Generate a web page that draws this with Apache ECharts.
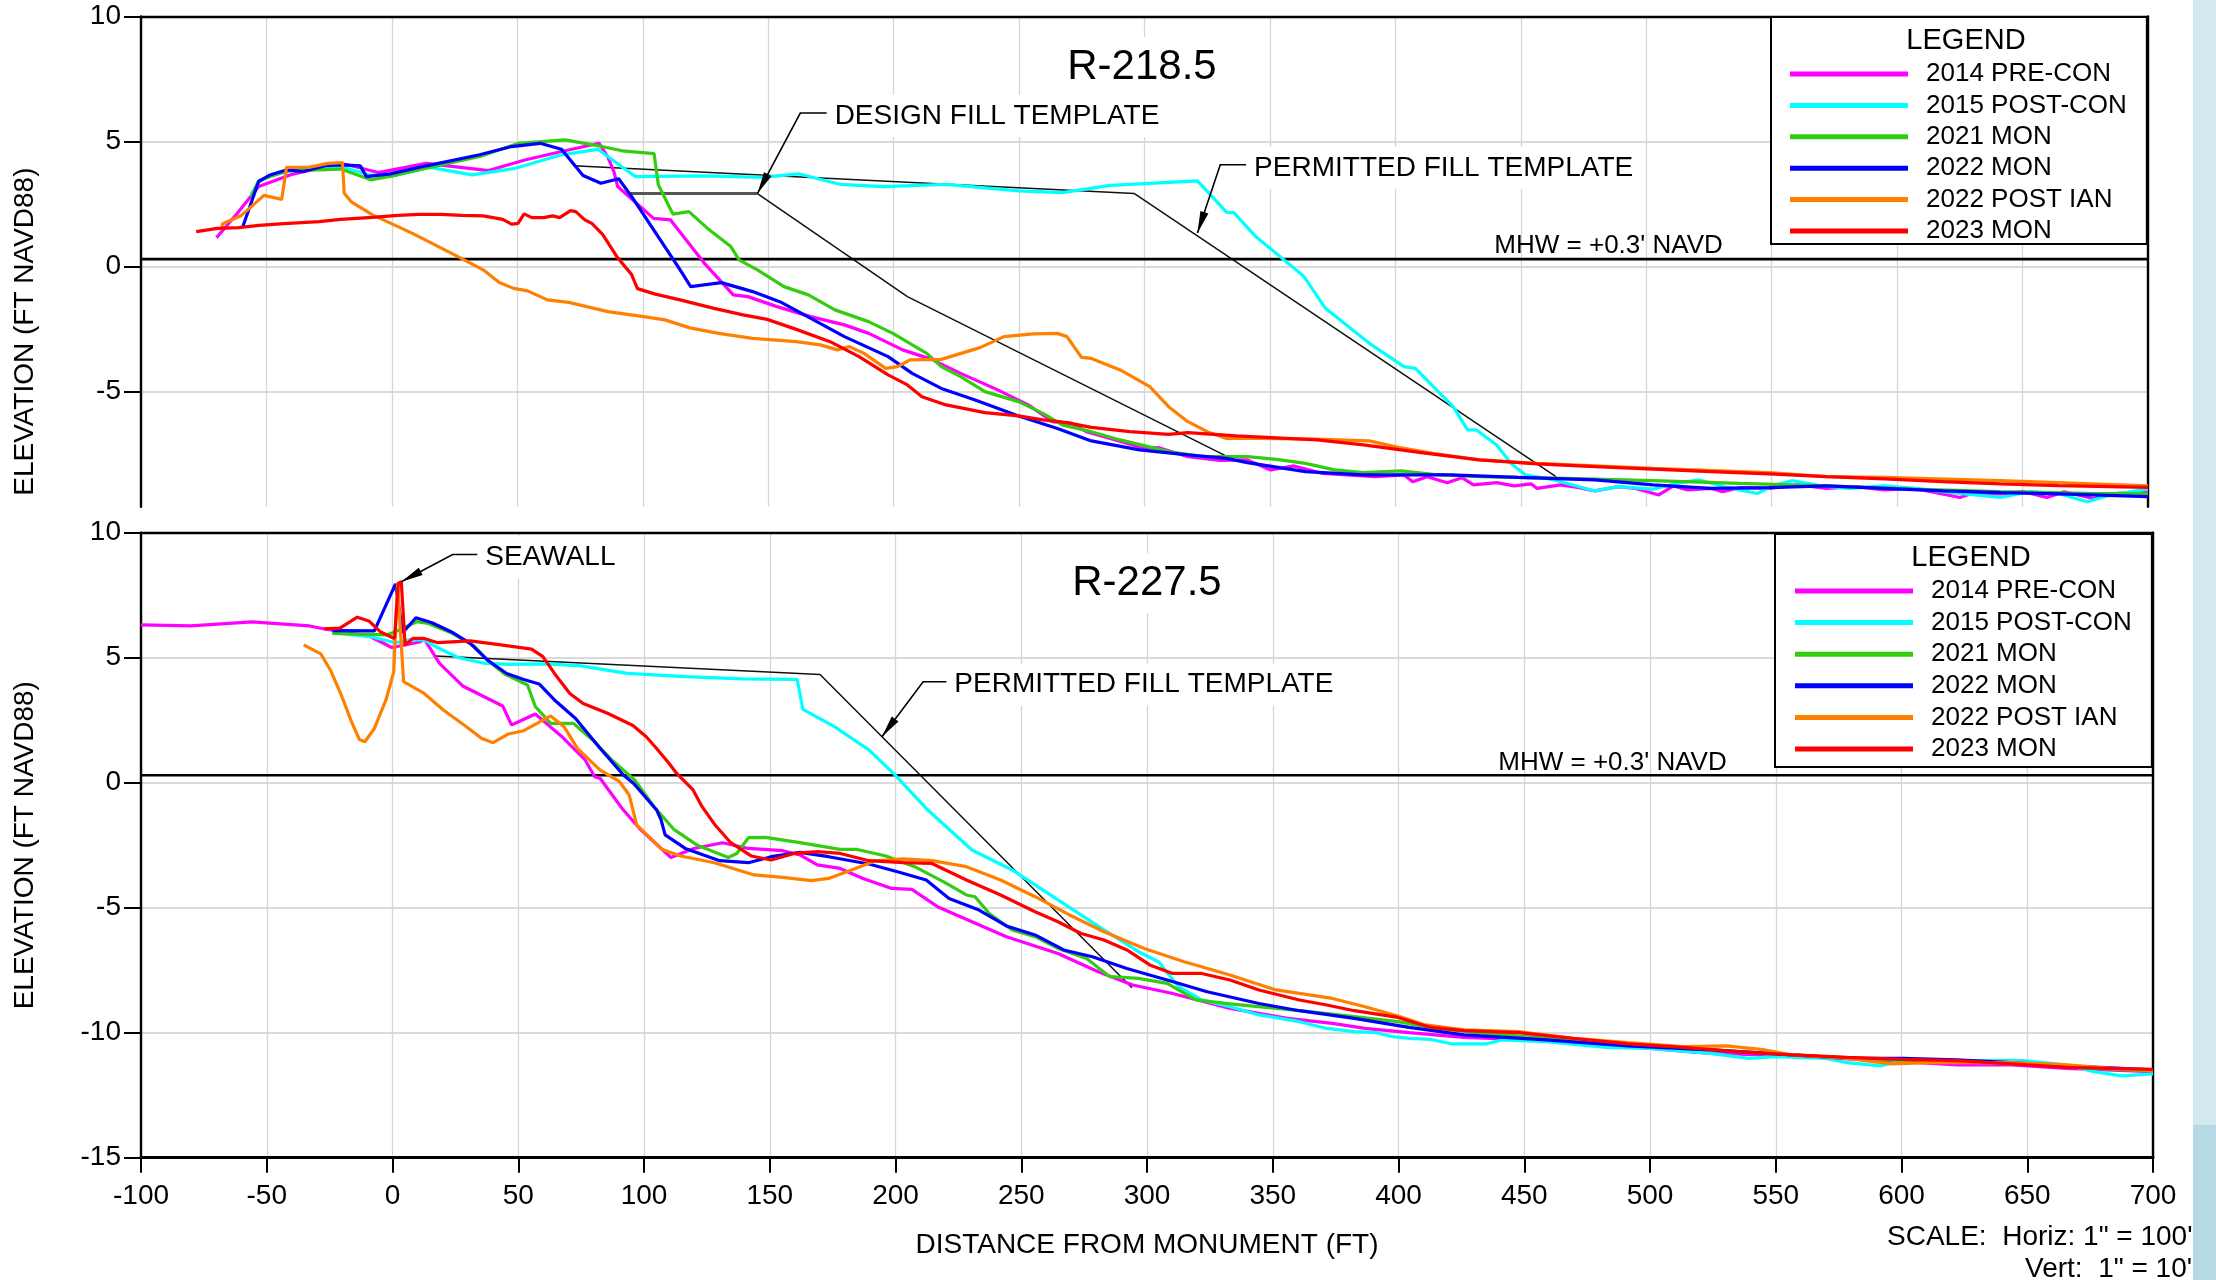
<!DOCTYPE html>
<html><head><meta charset="utf-8">
<script src="https://cdn.jsdelivr.net/npm/echarts@6/dist/echarts.min.js"></script>
<style>html,body{margin:0;padding:0;background:#fff}#c{width:2216px;height:1280px}</style>
</head><body><div id="c"></div>
<script>
const FONT = "'Liberation Sans', Arial, Helvetica, sans-serif";
const legendNames = ['2014 PRE-CON','2015 POST-CON','2021 MON','2022 MON','2022 POST IAN','2023 MON'];
const colors = ['#ff00ff','#00ffff','#33cc11','#0000ff','#ff8000','#ff0000'];
const yTicksTop = [-5, 0, 5, 10];
const mhwLevel = 0.3;

// ---------- R-218.5 (top) ----------
const top2014 = [[-69.9,1.16],[-61.6,2.13],[-53.1,3.2],[-40.3,3.67],[-20.4,4.13],[-14.8,4.0],[-5.5,3.76],[13.7,4.13],[38.5,3.84],[53.4,4.27],[67.6,4.6],[82.6,4.93],[86,4.4],[88.5,3.8],[90,3.2],[104.3,1.93],[111,1.87],[124.5,0.14],[136.1,-1.13],[141.9,-1.2],[153.5,-1.6],[166.9,-2.0],[180.4,-2.33],[190.1,-2.67],[203.6,-3.33],[215.2,-3.71],[226.7,-4.27],[240.2,-4.87],[253.7,-5.53],[263.3,-6.2],[271.1,-6.27],[276.8,-6.6],[288.4,-6.93],[300,-7.27],[305.8,-7.24],[317.3,-7.6],[330,-7.75],[341,-7.73],[350.3,-8.13],[359.6,-7.97],[371.1,-8.27],[391.9,-8.4],[403.4,-8.33],[406.9,-8.6],[412.7,-8.4],[420.7,-8.64],[426.5,-8.44],[431.1,-8.73],[440.4,-8.64],[447.3,-8.77],[454.2,-8.69],[456.5,-8.87],[465.8,-8.73],[472.7,-8.83],[479.6,-8.97],[488.8,-8.8],[495.8,-8.87],[505,-9.13],[510.8,-8.77],[516.5,-8.93],[525.8,-8.87],[530.4,-9.0],[537.3,-8.84],[548.9,-8.87],[560.4,-8.73],[571.9,-8.87],[583.5,-8.8],[595,-8.93],[606.6,-8.87],[613.5,-9.0],[625,-9.23],[629.7,-9.07],[641.2,-9.09],[650.4,-9.0],[659.7,-9.23],[666.6,-9.0],[678.1,-9.27],[687.4,-9.07],[700,-9.03]];
const top2015 = [[-56,2.9],[-53.1,3.4],[-48.9,3.6],[-40.3,3.83],[-20.4,4.0],[-9.1,3.67],[-0.6,3.6],[15.1,3.97],[32.1,3.67],[49.2,3.93],[67.6,4.47],[82.1,4.69],[97,3.6],[124.5,3.63],[147.7,3.57],[162.1,3.71],[178.5,3.29],[195.9,3.2],[220.9,3.29],[249.8,3.03],[267.2,2.96],[286.5,3.25],[321.1,3.43],[327,2.8],[332.7,2.17],[335.6,2.16],[344.3,1.2],[354,0.4],[363.6,-0.4],[372.1,-1.67],[390.5,-3.13],[403.4,-4.0],[408,-4.07],[423,-5.6],[428.8,-6.53],[432.3,-6.53],[440.4,-7.13],[446.1,-7.87],[451.9,-8.33],[463.4,-8.53],[479.6,-8.97],[488.8,-8.8],[502.7,-8.9],[511.9,-8.67],[521.2,-8.53],[532.7,-8.84],[544.2,-9.07],[551.2,-8.73],[558.1,-8.56],[569.6,-8.77],[581.2,-8.87],[595,-8.77],[606.6,-8.87],[618.1,-9.0],[641.2,-9.23],[652.7,-9.0],[664.3,-9.07],[675.8,-9.4],[685,-9.13],[700,-8.9]];
const top2021 = [[-56.2,2.77],[-53.1,3.44],[-41.8,3.83],[-20.4,3.9],[-8.4,3.47],[2.3,3.67],[13.7,3.93],[35,4.4],[50.6,4.93],[69,5.07],[80.2,4.87],[91.8,4.63],[104.5,4.52],[106.2,3.27],[112,2.1],[118.4,2.2],[126.5,1.47],[135.1,0.8],[138.4,0.27],[145.7,-0.13],[156.3,-0.8],[166,-1.13],[176.6,-1.73],[190,-2.2],[199.7,-2.67],[213.2,-3.47],[219,-4.0],[226.7,-4.4],[236.4,-5.0],[249.8,-5.4],[259.5,-5.87],[267.2,-6.33],[278.8,-6.6],[290.3,-6.93],[309.6,-7.4],[323.1,-7.6],[341,-7.6],[352.6,-7.71],[364.2,-7.87],[375.7,-8.13],[387.3,-8.24],[402.3,-8.17],[415,-8.31],[433.4,-8.4],[468.1,-8.47],[502.7,-8.56],[537.3,-8.67],[571.9,-8.77],[606.6,-8.9],[641.2,-9.0],[675.8,-9.07],[700,-9.09]];
const top2022 = [[-59.5,1.57],[-53.1,3.4],[-48.9,3.65],[-41.8,3.87],[-35.4,3.8],[-26.1,4.04],[-19.7,4.07],[-12.6,4.03],[-10.2,3.6],[-0.6,3.71],[13.7,4.03],[35,4.47],[47.7,4.8],[59.1,4.93],[67.6,4.69],[76.2,3.64],[83.3,3.33],[90.4,3.51],[95.6,2.8],[114.9,-0.13],[119.1,-0.8],[131.3,-0.64],[143.8,-1.0],[155.4,-1.44],[167,-2.07],[180.4,-2.8],[197.8,-3.6],[207.4,-4.27],[219,-4.87],[232.5,-5.33],[249.8,-5.97],[265.3,-6.47],[278.8,-6.97],[298,-7.33],[317.3,-7.53],[332.7,-7.67],[341,-7.84],[364.2,-8.2],[387.3,-8.33],[421.9,-8.33],[448.9,-8.43],[479.6,-8.53],[502.7,-8.73],[525.8,-8.87],[548.9,-8.84],[571.9,-8.77],[595,-8.87],[618.1,-8.97],[641.2,-9.04],[664.3,-9.09],[700,-9.2]];
const top2022ian = [[-67.6,1.57],[-67.6,1.7],[-60.2,2.03],[-51,2.85],[-43.9,2.69],[-42,3.97],[-33.2,3.97],[-25.4,4.13],[-19.7,4.16],[-19,2.93],[-16.2,2.59],[-7.7,2.07],[8,1.34],[25,0.47],[36.4,-0.13],[42.8,-0.64],[48.5,-0.87],[54.1,-0.97],[62,-1.33],[70.5,-1.43],[86.1,-1.8],[100.3,-2.0],[108.8,-2.13],[118.8,-2.45],[130.3,-2.67],[143.8,-2.87],[161.2,-3.0],[170.8,-3.13],[177.6,-3.33],[182.4,-3.2],[188.2,-3.47],[196.8,-4.07],[201.6,-4.0],[206.5,-3.73],[219,-3.71],[234.4,-3.24],[244,-2.8],[255.6,-2.69],[265.3,-2.67],[269.1,-2.8],[274.9,-3.63],[278.8,-3.67],[290.3,-4.13],[302.1,-4.8],[309.6,-5.6],[317.3,-6.2],[325,-6.6],[332.7,-6.87],[346.2,-6.87],[368.8,-6.9],[389.6,-6.97],[401.1,-7.23],[415,-7.47],[433.4,-7.73],[456.5,-7.87],[502.7,-8.07],[548.9,-8.24],[571.9,-8.4],[595,-8.43],[641.2,-8.56],[664.3,-8.64],[700,-8.77]];
const top2023 = [[-78,1.4],[-69.5,1.53],[-61,1.56],[-53,1.65],[-43,1.72],[-29,1.8],[-20.4,1.89],[-7.7,1.97],[2.3,2.05],[10.8,2.09],[19.3,2.09],[27.9,2.05],[36.4,2.03],[44.2,1.89],[47.7,1.7],[50.3,1.73],[52.7,2.11],[55.8,1.96],[60.5,1.96],[64.1,2.03],[66.9,1.96],[71.2,2.24],[73.3,2.2],[76.9,1.87],[79.7,1.73],[84,1.29],[90,0.35],[95.5,-0.31],[97.9,-0.88],[105,-1.1],[114.9,-1.33],[128.4,-1.67],[140,-1.93],[149.6,-2.11],[161.2,-2.51],[174.7,-3.0],[186.2,-3.6],[197.8,-4.33],[205.5,-4.73],[211.3,-5.2],[220.9,-5.53],[236.4,-5.84],[249.8,-5.97],[259.5,-6.13],[269.1,-6.24],[278.8,-6.43],[294.2,-6.6],[309.6,-6.71],[317.3,-6.64],[336.6,-6.77],[368.8,-6.93],[387.3,-7.13],[410.3,-7.44],[433.4,-7.73],[456.5,-7.89],[479.6,-8.0],[502.7,-8.1],[525.8,-8.2],[548.9,-8.29],[571.9,-8.4],[595,-8.49],[618.1,-8.6],[641.2,-8.69],[664.3,-8.76],[700,-8.83]];
const topDesignFlat = [[94.6,2.92],[145.7,2.92]];
const topDesignSlope = [[145.7,2.92],[205.5,-1.2],[336,-7.75]];
const topPermitted = [[72.4,4.03],[296,2.92],[464,-8.4]];

// ---------- R-227.5 (bottom) ----------
const bot2014 = [[-100,6.31],[-80.2,6.27],[-55.9,6.43],[-33,6.27],[-26.9,6.15],[-8.7,5.84],[-0.3,5.41],[5,5.51],[11.1,5.64],[12.6,5.75],[18.7,4.77],[27.9,3.87],[43.8,3.07],[47.3,2.31],[56.8,2.75],[67.4,1.84],[69.3,1.64],[76.6,0.91],[80.4,0.24],[82.6,0.17],[91.3,-1.03],[98.2,-1.83],[110.7,-2.99],[119.8,-2.63],[131.2,-2.4],[141.5,-2.63],[155.2,-2.72],[162,-2.89],[168.9,-3.29],[178,-3.43],[187.1,-3.83],[198.5,-4.23],[206.5,-4.27],[216.7,-4.96],[230.4,-5.56],[244.1,-6.16],[264.6,-6.83],[280.6,-7.56],[294.3,-8.09],[310.2,-8.43],[333,-9.03],[355.9,-9.43],[373.7,-9.63],[386.7,-9.83],[404.2,-10.0],[426,-10.19],[452.1,-10.29],[480.4,-10.49],[500,-10.63],[524,-10.83],[545.8,-10.89],[567.6,-10.99],[600.2,-11.16],[622,-11.29],[643.8,-11.29],[665.6,-11.43],[700,-11.56]];
const bot2015 = [[-23.9,6.0],[-8.7,5.84],[1.2,5.6],[6.5,5.71],[12.6,5.71],[17.2,5.44],[26.3,5.0],[37,4.77],[46.1,4.73],[61.3,4.75],[75,4.67],[93.3,4.37],[116.4,4.24],[139.2,4.15],[160.9,4.13],[163.2,2.93],[175.7,2.24],[189.4,1.31],[199.6,0.33],[212.2,-1.03],[230.4,-2.69],[246.4,-3.49],[264.6,-4.69],[282.9,-5.89],[296.6,-6.76],[304.6,-7.16],[312.5,-8.16],[321.7,-8.69],[333,-8.96],[344.5,-9.29],[360.6,-9.56],[371.5,-9.83],[382.4,-9.96],[391.1,-10.0],[397.6,-10.16],[404.2,-10.23],[412.9,-10.27],[421.6,-10.45],[434.7,-10.45],[441.2,-10.29],[458.6,-10.36],[482.6,-10.59],[500,-10.63],[524,-10.83],[539.2,-11.03],[550.1,-10.96],[569.8,-11.03],[578.5,-11.2],[591.5,-11.33],[600.2,-11.12],[622,-11.12],[648.2,-11.12],[665.6,-11.29],[676.5,-11.56],[687.4,-11.73],[700,-11.65]];
const bot2021 = [[-23.9,5.97],[-2.6,5.91],[1.2,6.04],[9.6,6.44],[14.2,6.37],[23.3,6.0],[32.4,5.47],[37.7,4.91],[44.6,4.35],[53.7,3.91],[56.8,3.04],[62.9,2.37],[72,2.37],[79.6,1.71],[87.2,0.91],[96.3,0.11],[104,-0.96],[112,-1.88],[121,-2.49],[133.5,-2.99],[136.9,-2.83],[141.5,-2.2],[148.3,-2.19],[162,-2.4],[178,-2.67],[184.8,-2.67],[196.2,-2.93],[207.6,-3.36],[219,-3.96],[228.2,-4.49],[231.6,-4.56],[237.3,-5.23],[246.4,-5.89],[255.5,-6.16],[264.6,-6.63],[276,-7.03],[285.2,-7.76],[296.6,-7.83],[308,-8.03],[319.4,-8.69],[333,-8.85],[360.6,-9.12],[382.4,-9.36],[399.8,-9.56],[415,-9.83],[436.9,-10.05],[458.6,-10.23],[491.3,-10.49],[524,-10.69],[556.7,-10.89],[589.4,-11.07],[622,-11.16],[654.7,-11.29],[676.5,-11.43],[700,-11.53]];
const bot2022 = [[-23.9,6.08],[-7.2,6.07],[1.2,7.95],[4,6.0],[9.3,6.6],[15.7,6.4],[23.3,6.04],[30.9,5.57],[37.7,4.91],[45.4,4.37],[52.2,4.13],[58.3,3.95],[64.4,3.31],[72.8,2.57],[82.6,1.37],[91.8,0.31],[95.9,-0.03],[105,-1.09],[106.8,-1.49],[108.4,-2.09],[116.4,-2.63],[130.1,-3.12],[141.5,-3.2],[150.6,-2.96],[162,-2.79],[173.4,-2.96],[189.4,-3.25],[200.8,-3.56],[212.2,-3.89],[221.3,-4.63],[232.7,-5.07],[244.1,-5.73],[255.5,-6.09],[266.9,-6.69],[278.3,-6.96],[292,-7.43],[308,-7.89],[323.9,-8.36],[344.5,-8.83],[360.6,-9.12],[382.4,-9.43],[404.2,-9.79],[426,-10.09],[458.6,-10.29],[491.3,-10.53],[524,-10.69],[556.7,-10.89],[578.5,-11.03],[600.2,-11.03],[622,-11.09],[643.8,-11.2],[665.6,-11.33],[700,-11.49]];
const bot2022ian = [[-35.3,5.51],[-28.5,5.15],[-24.7,4.51],[-20.1,3.44],[-16.3,2.44],[-13.2,1.73],[-11,1.64],[-7.2,2.17],[-2.6,3.31],[0.5,4.44],[2,8.0],[4.4,4.04],[12.6,3.57],[20.2,2.91],[29.4,2.24],[35.5,1.77],[40,1.6],[46.1,1.95],[52.2,2.08],[62.9,2.67],[68.2,2.24],[73.5,1.37],[82.6,0.5],[90.3,0.04],[94.1,-0.49],[97.1,-1.69],[107,-2.66],[114.6,-2.93],[128,-3.2],[143.8,-3.69],[155.2,-3.79],[166.6,-3.92],[173.4,-3.83],[182.5,-3.49],[191.7,-3.13],[203.1,-3.05],[214.5,-3.12],[228.2,-3.36],[241.8,-3.89],[255.5,-4.56],[269.2,-5.29],[282.9,-5.96],[298.9,-6.63],[314.8,-7.16],[333,-7.69],[351.3,-8.29],[360.6,-8.43],[373.7,-8.63],[386.7,-8.96],[399.8,-9.33],[410.7,-9.69],[426,-9.89],[447.7,-9.96],[469.5,-10.23],[491.3,-10.4],[513.1,-10.56],[530.5,-10.53],[545.8,-10.69],[556.7,-10.89],[578.5,-11.03],[596,-11.25],[611.1,-11.2],[643.8,-11.2],[665.6,-11.29],[683.1,-11.43],[700,-11.52]];
const bot2023 = [[-27.2,6.15],[-20.9,6.18],[-14,6.62],[-9.4,6.47],[-4.9,6.04],[0.8,5.77],[2.3,7.97],[3.5,8.04],[5,5.51],[8.1,5.77],[12.6,5.77],[18,5.6],[30.9,5.67],[43.1,5.51],[55.3,5.34],[59.8,5.04],[64.4,4.37],[70.5,3.57],[75.8,3.17],[85.7,2.77],[95.6,2.29],[100.9,1.84],[105,1.37],[110,0.77],[113,0.37],[119.5,-0.29],[123.1,-0.96],[128,-1.66],[134.5,-2.4],[142.6,-2.93],[150.6,-3.09],[159.7,-2.83],[168.9,-2.76],[178,-2.83],[189.4,-3.12],[203.1,-3.2],[214.5,-3.23],[228.2,-3.89],[241.8,-4.49],[255.5,-5.16],[264.6,-5.56],[273.8,-6.03],[282.9,-6.29],[292,-6.69],[301.1,-7.29],[310.2,-7.63],[321.7,-7.63],[333,-7.89],[344.5,-8.29],[360.6,-8.69],[371.5,-8.89],[382.4,-9.12],[399.8,-9.39],[412.9,-9.79],[426,-9.92],[447.7,-10.0],[469.5,-10.23],[491.3,-10.45],[513.1,-10.59],[534.9,-10.76],[556.7,-10.89],[578.5,-10.99],[600.2,-11.07],[622,-11.12],[643.8,-11.25],[665.6,-11.39],[700,-11.47]];
const botPermitted = [[17.2,5.07],[170,4.33],[294,-8.2]];

// annotation anchors (data coordinates)
const topLeaders = [
  {text:'DESIGN FILL TEMPLATE', tip:[145.7,2.92], corner:[162.8,6.14], end:[173.3,6.14]},
  {text:'PERMITTED FILL TEMPLATE', tip:[321.1,1.34], corner:[330.2,4.07], end:[340.5,4.07]}
];
const botLeaders = [
  {text:'SEAWALL', tip:[3.5,8.04], corner:[23.9,9.13], end:[33.7,9.13]},
  {text:'PERMITTED FILL TEMPLATE', tip:[194.6,1.84], corner:[211,4.04], end:[220.2,4.04]}
];
const topTitle = {text:'R-218.5', at:[299,8.1]};
const botTitle = {text:'R-227.5', at:[300,8.1]};
const mhwText = "MHW = +0.3' NAVD";
const mhwTextAt = {top:[530.5,0.95], bot:[530.5,0.9]};

const chart = echarts.init(document.getElementById('c'), null, {renderer:'canvas', width:2216, height:1280});

const gridLine = {color:'#d6d6d6', width:1.3};
const hGridLine = {color:'#dadada', width:2.2};
const borderLine = {show:true, onZero:false, lineStyle:{color:'#000', width:2.4}};
function borderAxis(extra) {
  return Object.assign({type:'value', z:1, axisLine:borderLine, axisTick:{show:false}, axisLabel:{show:false}, splitLine:{show:false}}, extra);
}
const labelStyle = {fontSize:28, color:'#000', fontFamily:FONT};

function prof(name, data, color, xi, yi) {
  return {type:'line', name, data, xAxisIndex:xi, yAxisIndex:yi, showSymbol:false, symbol:'none',
    lineStyle:{color, width:3.2}, itemStyle:{color}, z:3, silent:true};
}
function plain(data, color, width, xi, yi) {
  return {type:'line', data, xAxisIndex:xi, yAxisIndex:yi, showSymbol:false, symbol:'none',
    lineStyle:{color, width}, itemStyle:{color}, z:2, silent:true};
}

const topSets = [top2014, top2015, top2021, top2022, top2022ian, top2023];
const botSets = [bot2014, bot2015, bot2021, bot2022, bot2022ian, bot2023];
const series = [];
series.push(plain(topPermitted, '#111', 1.5, 0, 0));
series.push(plain(topDesignSlope, '#111', 1.5, 0, 0));
series.push(plain(topDesignFlat, '#555', 3, 0, 0));
series.push(plain([[-100,mhwLevel],[700,mhwLevel]], '#000', 2.6, 0, 0));
const topFirst = series.length;
topSets.forEach((d,i)=>series.push(prof(legendNames[i], d, colors[i], 0, 0)));
series.push(plain(botPermitted, '#111', 1.5, 2, 3));
series.push(plain([[-100,mhwLevel],[700,mhwLevel]], '#000', 2.6, 2, 3));
const botFirst = series.length;
botSets.forEach((d,i)=>series.push(prof(legendNames[i], d, colors[i], 2, 3)));

function legendCfg(left, top, padding, gap) {
  return {show:true, orient:'vertical', left, top, padding, itemGap:gap, itemWidth:118, itemHeight:5,
    icon:'rect', selectedMode:false, data:legendNames, backgroundColor:'#fff', borderColor:'#000', borderWidth:2,
    textStyle:{fontSize:26, color:'#000', fontFamily:FONT, padding:[0,0,0,13]}, z:6};
}

const option = {
  animation:false,
  backgroundColor:'#fff',
  textStyle:{fontFamily:FONT},
  grid:[
    {left:141, top:16.5, width:2007, height:490.2},
    {left:141, top:532.7, width:2012, height:625}
  ],
  xAxis:[
    {gridIndex:0, type:'value', min:-100, max:700, interval:50, position:'top',
     axisLine:{show:false, onZero:false}, axisTick:{show:false}, axisLabel:{show:false},
     splitLine:{show:true, lineStyle:gridLine}},
    borderAxis({gridIndex:0, min:-100, max:700, position:'top'}),
    {gridIndex:1, type:'value', min:-100, max:700, interval:50, position:'bottom',
     axisLine:{show:false, onZero:false},
     axisTick:{show:true, length:15, lineStyle:{color:'#000', width:2}},
     axisLabel:Object.assign({margin:25}, labelStyle),
     name:'DISTANCE FROM MONUMENT (FT)', nameLocation:'middle', nameGap:74,
     nameTextStyle:{fontSize:28, color:'#000', fontFamily:FONT},
     splitLine:{show:true, lineStyle:gridLine}},
    borderAxis({gridIndex:1, min:-100, max:700, position:'top'}),
    borderAxis({gridIndex:1, min:-100, max:700, position:'bottom', axisLine:{show:true, onZero:false, lineStyle:{color:'#000', width:3.2}}})
  ],
  yAxis:[
    {gridIndex:0, type:'value', min:-9.6, max:10, splitNumber:4, position:'left',
     axisLine:{show:false, onZero:false},
     axisTick:{show:true, length:17, lineStyle:{color:'#000', width:2}, customValues:yTicksTop},
     axisLabel:Object.assign({margin:20, customValues:yTicksTop}, labelStyle),
     splitLine:{show:true, lineStyle:hGridLine}},
    borderAxis({gridIndex:0, min:-9.6, max:10, position:'left'}),
    borderAxis({gridIndex:0, min:-9.6, max:10, position:'right'}),
    {gridIndex:1, type:'value', min:-15, max:10, interval:5, position:'left',
     axisLine:{show:false, onZero:false},
     axisTick:{show:true, length:17, lineStyle:{color:'#000', width:2}},
     axisLabel:Object.assign({margin:20}, labelStyle),
     name:'ELEVATION (FT NAVD88)', nameLocation:'middle', nameGap:102,
     nameTextStyle:{fontSize:28, color:'#000', fontFamily:FONT},
     splitLine:{show:true, lineStyle:hGridLine}},
    borderAxis({gridIndex:1, min:-15, max:10, position:'left'}),
    borderAxis({gridIndex:1, min:-15, max:10, position:'right'})
  ],
  legend:[
    legendCfg(1771, 17, [44,20,0,19], 5.4),
    legendCfg(1775, 534, [44,20,5,20], 5.6)
  ],
  series
};
chart.setOption(option);

// ---------- annotations positioned through the chart's own scales ----------
const toTop = v => chart.convertToPixel({seriesIndex: topFirst}, v);
const toBot = v => chart.convertToPixel({seriesIndex: botFirst}, v);
const CAPDY = 3; // caps sit slightly low in the source lettering
const g = [];
const txt = (x, y, text, size, align, extra) => Object.assign({type:'text', x, y: y + CAPDY, z:20,
  style:{text, font:size + 'px ' + FONT, fill:'#000', align, verticalAlign:'middle'}}, extra || {});

function addLeaders(list, conv) {
  list.forEach(L => {
    const t = conv(L.tip), c = conv(L.corner), e = conv(L.end);
    g.push({type:'polyline', z:20, shape:{points:[e, c, t]}, style:{stroke:'#000', lineWidth:1.6, fill:null}});
    const dx = t[0]-c[0], dy = t[1]-c[1], len = Math.hypot(dx, dy);
    const ux = dx/len, uy = dy/len, nx = -uy, ny = ux, AL = 22, AW = 4.2;
    const bx = t[0]-ux*AL, by = t[1]-uy*AL;
    g.push({type:'polygon', z:20, shape:{points:[t, [bx+nx*AW, by+ny*AW], [bx-nx*AW, by-ny*AW]]}, style:{fill:'#000'}});
    const tb = txt(e[0]+4, e[1], L.text, 28, 'left');
    tb.style.backgroundColor = '#fff'; tb.style.padding = [7, 4];
    tb.z = 19;
    g.push(tb);
  });
}
addLeaders(topLeaders, toTop);
addLeaders(botLeaders, toBot);

[[topTitle, toTop],[botTitle, toBot]].forEach(([T, conv]) => {
  const p = conv(T.at);
  const e = txt(p[0], p[1], T.text, 42, 'center');
  e.style.backgroundColor = '#fff'; e.style.padding = [9, 8]; e.z = 19;
  g.push(e);
});
const m1 = toTop(mhwTextAt.top), m2 = toBot(mhwTextAt.bot);
g.push(txt(m1[0], m1[1], mhwText, 26, 'right'));
g.push(txt(m2[0], m2[1], mhwText, 26, 'right'));

// legend headings
g.push(txt(1966, 38, 'LEGEND', 29, 'center'));
g.push(txt(1971, 555, 'LEGEND', 29, 'center'));

// top chart y-axis name: centred on the full -15..10 profile frame
const yn = toTop([-100, -2.6]);
g.push({type:'text', x:25, y:yn[1], z:20, rotation:Math.PI/2,
  style:{text:'ELEVATION (FT NAVD88)', font:'28px ' + FONT, fill:'#000', align:'center', verticalAlign:'middle'}});

// scale note
g.push(txt(1887, 1234, 'SCALE:  Horiz: 1" = 100\'', 28, 'left'));
g.push(txt(2025, 1266, 'Vert:  1" = 10\'', 28, 'left'));

// right margin strip from the source page
g.push({type:'rect', z:30, shape:{x:2193, y:0, width:23, height:1280}, style:{fill:'#d3e8ef'}});
g.push({type:'rect', z:31, shape:{x:2193, y:1125, width:23, height:155}, style:{fill:'#b6d9e5'}});

chart.setOption({graphic:{elements:g}});
</script>
</body></html>
